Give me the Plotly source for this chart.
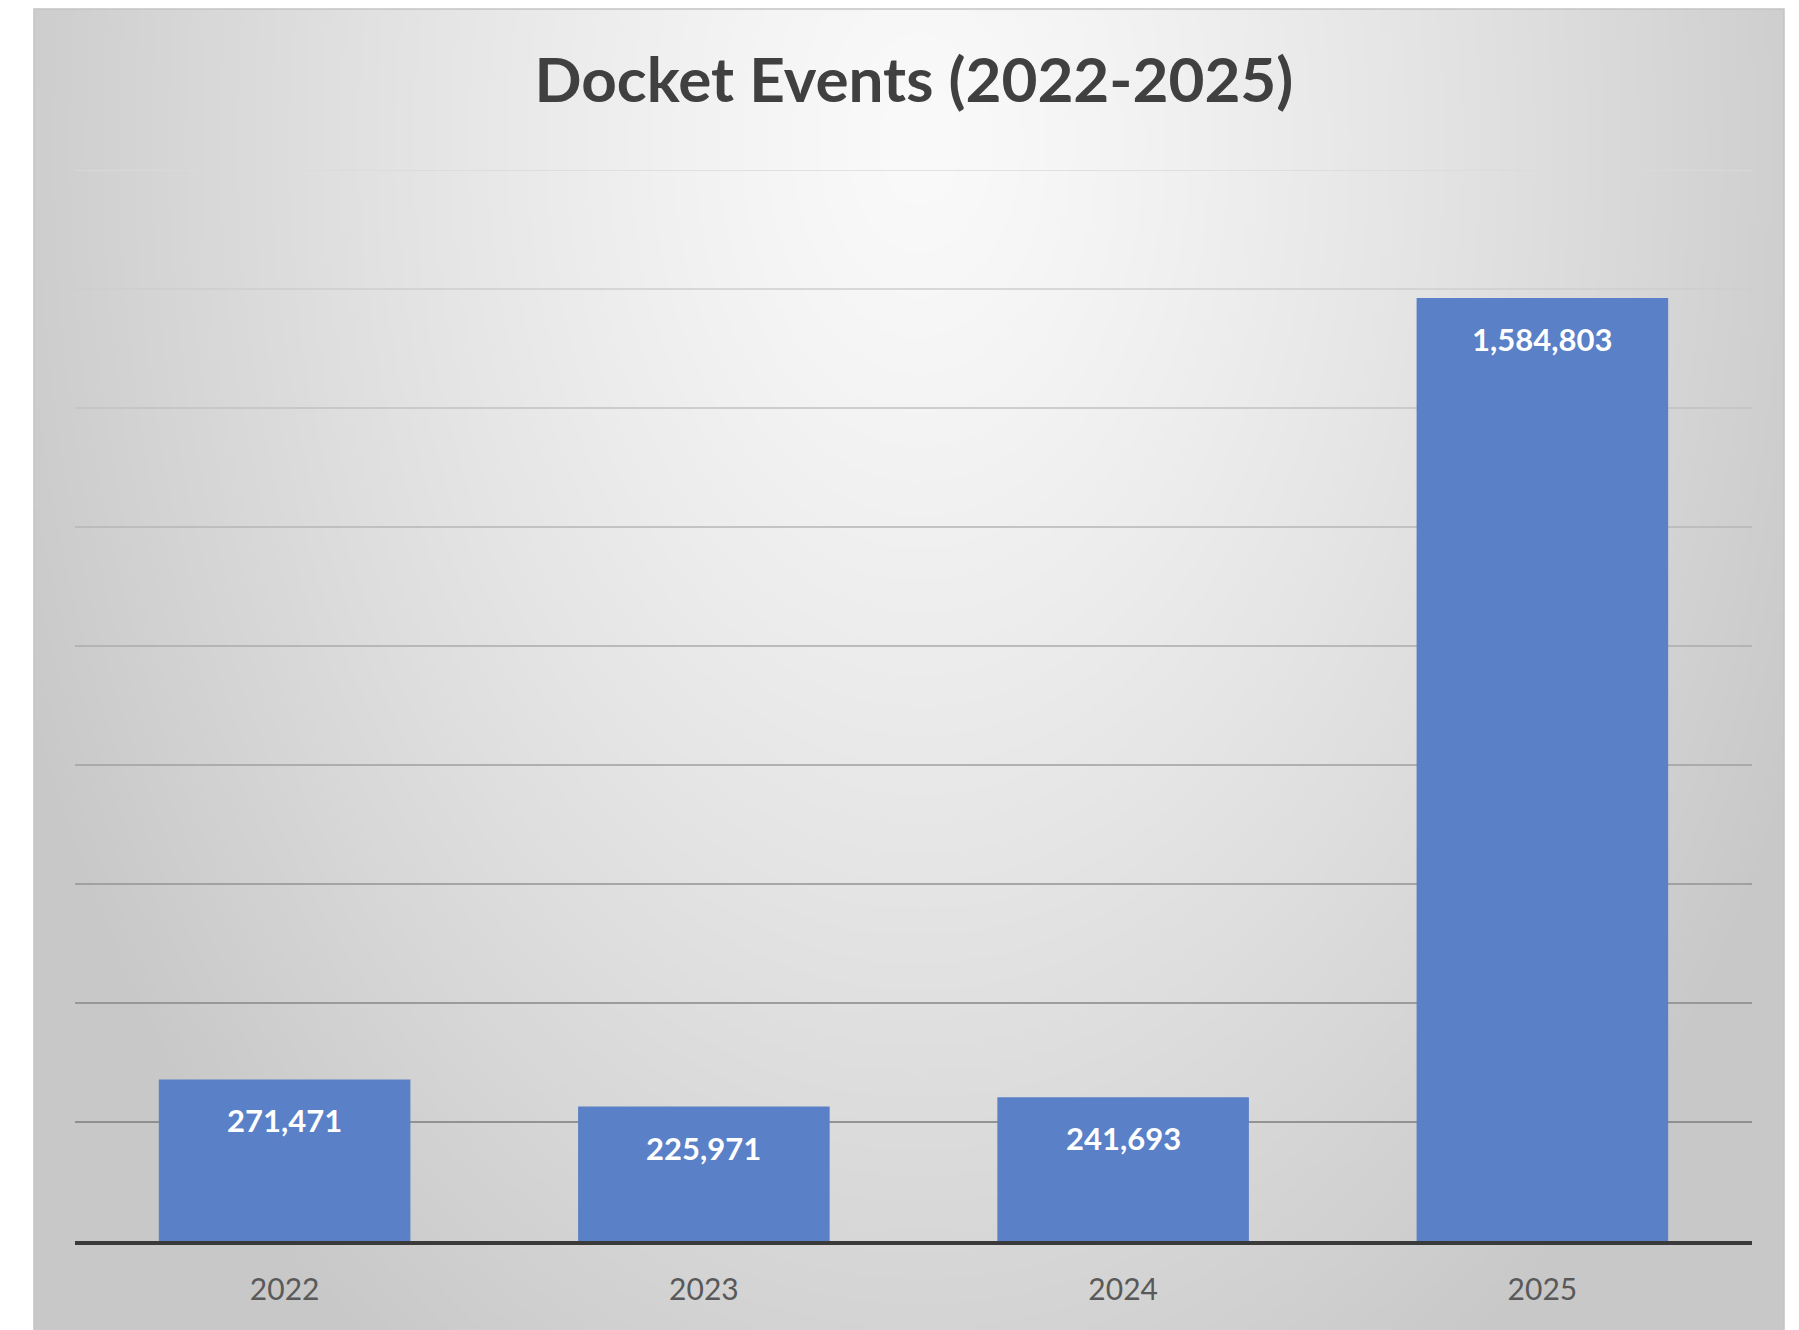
import base64
import struct
import zlib

import numpy as np
import plotly.graph_objects as go


# ── data ────────────────────────────────────────────────────────────────────
YEARS = ["2022", "2023", "2024", "2025"]
EVENTS = [271471, 225971, 241693, 1584803]
Y_MAX = 1800000
Y_STEP = 200000

TITLE = "Docket Events (2022-2025)"

# ── palette ─────────────────────────────────────────────────────────────────
PALETTE = {
    "page":  "#ffffff",
    "bar":   "#5A80C8",
    "title": "#404040",
    "tick":  "#595959",
    "axis":  "#3a3a3a",
    "frame": "#c4c4c4",
}
FONT_FAMILY = "Lato, 'Open Sans', sans-serif"

W, H = 1799, 1330
CHART_BOX = (34 / W, 1784 / W, 0.0, 1 - 9 / H)      # x0, x1, y0, y1 (paper)
PLOT_X = [75 / W, 1752 / W]
PLOT_Y = [1 - 1241 / H, 1 - 170 / H]


def _png(arr: np.ndarray) -> bytes:
    """minimal RGB png encoder (no PIL needed)"""
    h, w, _ = arr.shape
    raw = b"".join(b"\x00" + arr[i].tobytes() for i in range(h))

    def chunk(tag, data):
        return (struct.pack(">I", len(data)) + tag + data
                + struct.pack(">I", zlib.crc32(tag + data) & 0xFFFFFFFF))

    return (b"\x89PNG\r\n\x1a\n"
            + chunk(b"IHDR", struct.pack(">IIBBBBB", w, h, 8, 2, 0, 0, 0))
            + chunk(b"IDAT", zlib.compress(raw, 9))
            + chunk(b"IEND", b""))


def radial_background(w: int = 440, h: int = 332) -> str:
    """white-to-grey radial fill like the Excel chart area"""
    yy, xx = np.mgrid[0:h, 0:w].astype(float)
    cx, cy = 0.505 * w, 0.10 * h
    d = np.sqrt(((xx - cx) / (0.56 * w)) ** 2 + ((yy - cy) / (1.12 * h)) ** 2)
    d = np.clip(d, 0, 1)
    v = 250 - (250 - 200) * d ** 1.25
    arr = np.repeat(v[:, :, None], 3, axis=2).astype(np.uint8)
    return "data:image/png;base64," + base64.b64encode(_png(arr)).decode()


def grid_shapes() -> list:
    """gridlines fade from dark (bottom) to light (top)"""
    levels = list(range(Y_STEP, Y_MAX + 1, Y_STEP))
    shapes = []
    for i, v in enumerate(levels):
        t = i / (len(levels) - 1)
        g = int(124 + (218 - 124) * t)
        shapes.append(dict(
            type="line", xref="x domain", yref="y",
            x0=0, x1=1, y0=v, y1=v,
            line=dict(color=f"rgb({g},{g},{g})", width=1.6),
            layer="below",
        ))
    return shapes


def docket_bar() -> go.Figure:
    fig = go.Figure(go.Bar(
        x=YEARS, y=EVENTS,
        marker=dict(color=PALETTE["bar"], line=dict(width=0)),
        hovertemplate="%{x}: %{y:,}<extra></extra>",
    ))

    # value labels just inside the top of each bar
    # (category axis -> annotation x is the category's serial index)
    for idx, val in enumerate(EVENTS):
        fig.add_annotation(
            x=idx, y=val, text=f"<b>{val:,}</b>",
            showarrow=False, yanchor="middle", yshift=-41,
            font=dict(family=FONT_FAMILY, size=31, color="#ffffff"),
        )

    x0, x1, y0, y1 = CHART_BOX
    shapes = grid_shapes()
    shapes.append(dict(
        type="rect", xref="paper", yref="paper",
        x0=x0, x1=x1, y0=y0 - 0.01, y1=y1,
        line=dict(color=PALETTE["frame"], width=1.5),
        fillcolor="rgba(0,0,0,0)", layer="below",
    ))

    fig.update_layout(
        width=W, height=H,
        margin=dict(l=0, r=0, t=0, b=0, autoexpand=False),
        paper_bgcolor=PALETTE["page"],
        plot_bgcolor="rgba(0,0,0,0)",
        showlegend=False,
        bargap=0.4,
        title=dict(
            text=f"<b>{TITLE}</b>",
            font=dict(family=FONT_FAMILY, size=62, color=PALETTE["title"]),
            x=0.508, xanchor="center", y=1 - 80 / H, yanchor="middle",
        ),
        images=[dict(
            source=radial_background(), xref="paper", yref="paper",
            x=x0, y=y1, sizex=x1 - x0, sizey=y1 - y0,
            xanchor="left", yanchor="top", sizing="stretch", layer="below",
        )],
        shapes=shapes,
        xaxis=dict(
            type="category",
            domain=PLOT_X, automargin=False,
            showgrid=False, zeroline=False,
            showline=True, linecolor=PALETTE["axis"], linewidth=4,
            ticks="outside", ticklen=19, tickcolor="rgba(0,0,0,0)",
            tickfont=dict(family=FONT_FAMILY, size=30, color=PALETTE["tick"]),
        ),
        yaxis=dict(
            domain=PLOT_Y, automargin=False,
            range=[0, Y_MAX],
            showgrid=False, zeroline=False,
            showticklabels=False,
        ),
    )
    return fig


fig = docket_bar()
# drop the default body margin so the 1799x1330 figure sits at the page origin
fig.write_html(
    "out.html",
    config={"displayModeBar": False},
    post_script="document.body.style.margin='0';",
)
